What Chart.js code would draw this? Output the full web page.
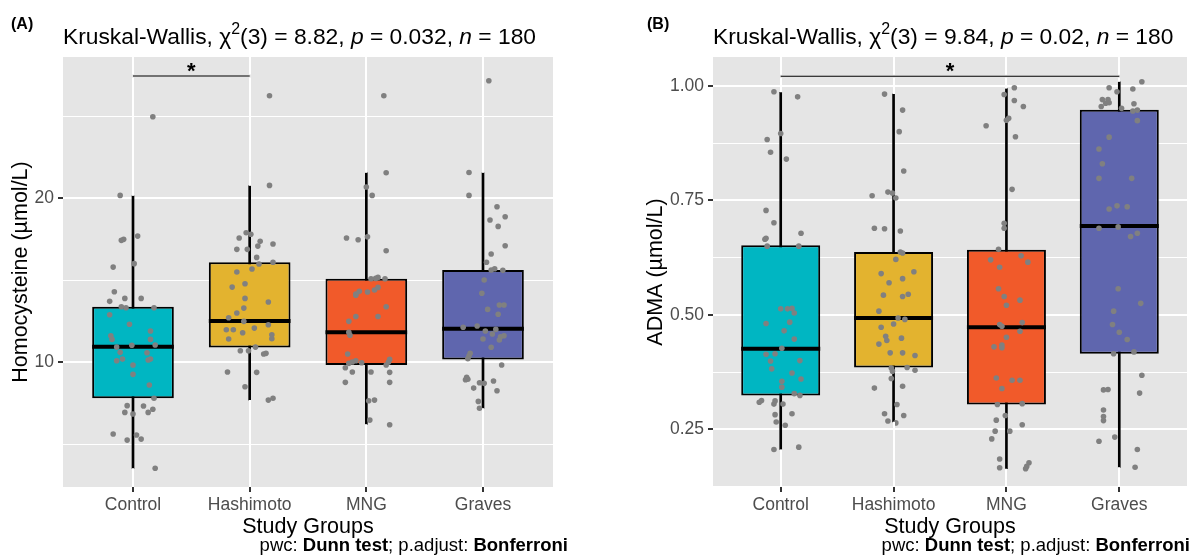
<!DOCTYPE html>
<html lang="en">
<head>
<meta charset="UTF-8">
<title>Homocysteine and ADMA by study group</title>
<script src="https://cdn.jsdelivr.net/npm/chart.js"></script>
<style>
    body { margin: 0; background: #ffffff; width: 1191px; height: 560px; position: relative; overflow: hidden; }
    canvas { position: absolute; top: 0; }
    #chartA { left: 0; }
    #chartB { left: 595px; }
</style>
</head>
<body>
<canvas id="chartA" width="595" height="560"></canvas>
<canvas id="chartB" width="596" height="560"></canvas>
<script>
const FONT = '"Liberation Sans", Arial, sans-serif';
const groups = ['Control', 'Hashimoto', 'MNG', 'Graves'];
const groupColors = ['#00B6C2', '#E3B32F', '#F15A2A', '#5F66AE'];

// ---- Panel A: Homocysteine ----
const hcyLo  = [3.52, 7.68, 6.2, 7.18];
const hcyQ1  = [7.79, 10.89, 9.82, 10.16];
const hcyMed = [10.93, 12.5, 11.81, 12.03];
const hcyQ3  = [13.37, 16.08, 15.08, 15.61];
const hcyHi  = [20.14, 20.75, 21.54, 21.54];
const hcyTicks = [10, 20];
const hcyMinor = [5, 15, 25];
const hcySig = [1, 2];
const hcySigY = 27.44;

const hcyCtrl = [24.96, 20.16, 17.42, 17.48, 17.68, 16.0, 15.79, 14.29, 13.7, 13.88, 13.88, 13.37, 13.31, 13.31, 12.88, 12.3, 11.6, 11.38, 11.89, 11.38, 10.91, 11.02, 11.04, 10.57, 10.59, 10.08, 10.18, 10.12, 10.18, 9.82, 9.25, 8.6, 7.79, 7.34, 7.32, 6.93, 6.83, 6.93, 7.12, 5.61, 5.24, 5.55, 5.3, 3.52];
const hcyCtrlJit = [0.17, -0.11, -0.10, -0.08, 0.04, 0.01, -0.17, -0.16, -0.2, -0.07, 0.07, -0.1, -0.06, 0.18, -0.2, -0.03, -0.19, -0.18, 0.15, 0.15, -0.14, -0.01, 0.19, 0.12, -0.11, -0.14, -0.09, 0.13, 0.15, 0.0, 0.0, 0.14, 0.18, -0.05, 0.09, -0.07, 0.0, 0.13, 0.17, -0.17, -0.05, 0.03, 0.07, 0.19];
const hcyHash = [26.24, 20.77, 17.56, 17.88, 17.79, 17.36, 17.07, 17.2, 16.87, 16.87, 16.38, 15.98, 16.08, 15.67, 15.49, 14.57, 14.77, 13.88, 13.66, 13.29, 12.99, 12.7, 12.48, 12.27, 11.97, 11.97, 11.79, 12.07, 11.66, 11.42, 11.4, 10.91, 10.69, 10.69, 10.49, 10.53, 9.39, 9.37, 8.49, 7.68, 7.79];
const hcyHashJit = [0.17, 0.17, -0.09, -0.03, 0.01, 0.09, 0.07, 0.2, -0.11, -0.02, 0.06, 0.08, 0.2, 0.02, -0.11, -0.15, -0.04, -0.04, 0.16, -0.05, -0.11, -0.18, -0.05, 0.16, -0.2, -0.14, -0.06, 0.04, 0.19, 0.19, -0.18, 0.05, -0.08, -0.01, 0.12, 0.14, -0.19, 0.06, -0.04, 0.16, 0.2];
const hcyMng = [26.24, 21.54, 20.67, 20.16, 17.56, 17.46, 17.64, 16.79, 15.08, 15.16, 15.08, 15.1, 14.15, 14.31, 14.27, 14.39, 14.55, 14.07, 13.37, 12.78, 12.78, 12.48, 11.81, 11.63, 10.49, 9.92, 10.0, 10.08, 9.96, 9.65, 9.39, 9.39, 9.82, 10.16, 10.0, 9.37, 8.76, 8.76, 7.64, 7.68, 6.46, 6.18];
const hcyMngJit = [0.15, 0.17, 0.0, 0.05, -0.17, -0.07, 0.01, 0.17, 0.04, 0.1, 0.16, 0.08, -0.09, -0.06, 0.01, 0.07, 0.1, -0.09, 0.17, -0.09, 0.1, -0.15, -0.15, -0.14, -0.16, -0.15, -0.12, -0.09, -0.04, -0.18, -0.12, 0.04, 0.17, 0.2, 0.19, 0.2, -0.18, 0.2, 0.02, 0.07, 0.03, 0.2];
const hcyGrav = [27.15, 21.56, 20.16, 19.47, 18.86, 18.66, 18.27, 17.09, 16.59, 16.08, 15.61, 15.69, 15.59, 15.0, 14.19, 13.21, 13.48, 13.48, 12.91, 12.12, 12.2, 11.89, 11.71, 11.99, 11.54, 11.6, 11.34, 11.4, 10.9, 10.53, 10.37, 10.2, 9.82, 9.07, 8.95, 8.92, 8.74, 8.7, 8.84, 8.41, 8.25, 7.6, 7.18];
const hcyGravJit = [0.05, -0.12, -0.12, 0.12, 0.19, 0.06, 0.13, 0.19, 0.07, 0.03, 0.07, 0.1, 0.17, 0.01, -0.01, 0.04, 0.14, 0.18, 0.13, -0.17, -0.05, 0.02, 0.08, 0.11, 0.15, 0.18, 0.14, 0.0, 0.07, -0.11, -0.12, -0.13, 0.16, -0.14, -0.13, -0.15, -0.03, 0.01, 0.09, -0.08, 0.12, -0.04, -0.03];

// ---- Panel B: ADMA ----
const admaLo  = [0.206, 0.266, 0.164, 0.167];
const admaQ1  = [0.324, 0.385, 0.304, 0.415];
const admaMed = [0.426, 0.493, 0.473, 0.694];
const admaQ3  = [0.652, 0.637, 0.642, 0.948];
const admaHi  = [0.986, 0.982, 0.994, 1.009];
const admaTicks = [0.25, 0.5, 0.75, 1.0];
const admaMinor = [0.125, 0.375, 0.625, 0.875];
const admaSig = [1, 4];
const admaSigY = 1.021;

const admaCtrl = [0.987, 0.976, 0.896, 0.883, 0.855, 0.84, 0.728, 0.701, 0.678, 0.665, 0.667, 0.65, 0.65, 0.513, 0.513, 0.514, 0.504, 0.481, 0.484, 0.465, 0.447, 0.427, 0.414, 0.415, 0.399, 0.4, 0.382, 0.373, 0.36, 0.355, 0.342, 0.328, 0.324, 0.309, 0.313, 0.312, 0.305, 0.305, 0.282, 0.284, 0.266, 0.259, 0.206, 0.211];
const admaCtrlJit = [-0.06, 0.15, 0.0, -0.12, -0.09, 0.05, -0.13, -0.06, 0.18, -0.14, -0.13, -0.12, 0.16, 0.0, 0.06, 0.1, 0.12, -0.13, 0.08, 0.03, 0.12, 0.01, -0.13, -0.05, -0.09, 0.17, -0.08, 0.1, 0.18, 0.01, 0.01, 0.12, 0.17, -0.19, -0.17, -0.05, -0.06, 0.02, -0.05, 0.1, -0.04, 0.04, -0.06, 0.16];
const admaHash = [0.982, 0.947, 0.9, 0.814, 0.76, 0.768, 0.766, 0.755, 0.689, 0.688, 0.683, 0.637, 0.635, 0.621, 0.59, 0.594, 0.57, 0.579, 0.543, 0.54, 0.545, 0.508, 0.493, 0.49, 0.48, 0.473, 0.453, 0.444, 0.449, 0.436, 0.417, 0.417, 0.411, 0.384, 0.377, 0.385, 0.379, 0.361, 0.34, 0.344, 0.304, 0.284, 0.28, 0.268, 0.264];
const admaHashJit = [-0.08, 0.08, 0.05, 0.09, -0.19, -0.05, -0.01, 0.02, -0.17, -0.08, 0.06, 0.06, 0.08, 0.02, -0.11, 0.18, -0.04, 0.08, -0.09, 0.08, 0.13, -0.13, 0.04, 0.1, 0.0, -0.11, -0.07, -0.06, 0.07, -0.13, -0.03, 0.08, 0.19, -0.02, -0.01, 0.12, 0.19, -0.02, -0.17, 0.08, 0.03, -0.08, 0.09, -0.05, 0.02];
const admaMng = [0.996, 0.981, 0.968, 0.955, 0.913, 0.925, 0.929, 0.889, 0.774, 0.7, 0.689, 0.643, 0.62, 0.629, 0.615, 0.604, 0.557, 0.54, 0.532, 0.521, 0.483, 0.479, 0.475, 0.464, 0.451, 0.43, 0.434, 0.428, 0.362, 0.357, 0.357, 0.339, 0.304, 0.306, 0.27, 0.28, 0.26, 0.246, 0.246, 0.229, 0.185, 0.177, 0.169, 0.166, 0.164];
const admaMngJit = [0.07, -0.02, 0.07, 0.15, -0.18, 0.0, 0.02, 0.08, 0.05, -0.02, -0.02, -0.07, -0.14, 0.13, 0.19, -0.06, -0.07, -0.02, 0.12, 0.0, 0.14, -0.06, -0.04, 0.12, 0.0, -0.11, -0.04, -0.04, -0.09, 0.05, 0.12, -0.04, -0.08, 0.14, -0.09, -0.01, 0.14, -0.1, 0.03, -0.13, -0.06, 0.2, 0.18, -0.06, 0.17];
const admaGrav = [1.009, 0.996, 0.987, 0.993, 0.97, 0.97, 0.963, 0.955, 0.962, 0.961, 0.951, 0.945, 0.947, 0.924, 0.888, 0.862, 0.83, 0.798, 0.798, 0.731, 0.738, 0.736, 0.689, 0.692, 0.671, 0.678, 0.557, 0.508, 0.525, 0.479, 0.462, 0.446, 0.415, 0.419, 0.368, 0.336, 0.337, 0.329, 0.292, 0.278, 0.269, 0.233, 0.224, 0.206, 0.167];
const admaGravJit = [0.2, -0.09, -0.02, 0.12, -0.15, -0.1, -0.09, -0.16, -0.12, 0.13, 0.02, 0.12, 0.16, 0.16, -0.09, -0.18, -0.15, -0.18, 0.11, -0.09, -0.02, 0.07, -0.18, -0.01, 0.1, 0.16, -0.01, -0.05, 0.19, -0.06, 0.0, 0.07, -0.05, 0.13, 0.2, -0.14, -0.1, 0.18, -0.14, -0.14, -0.14, -0.04, -0.18, 0.16, 0.14];

const caption = [{t: 'pwc: '}, {t: 'Dunn test', b: true}, {t: '; p.adjust: '}, {t: 'Bonferroni', b: true}];

function partFont(p, size) {
    return (p.i ? 'italic ' : '') + (p.b ? 'bold ' : '') + (p.sup ? size * 0.7 : size) + 'px ' + FONT;
}

function richWidth(ctx, parts, size) {
    let w = 0;
    parts.forEach(p => { ctx.font = partFont(p, size); w += ctx.measureText(p.t).width; });
    return w;
}

function drawRich(ctx, parts, x, y, size) {
    parts.forEach(p => {
        ctx.font = partFont(p, size);
        ctx.fillText(p.t, x, p.sup ? y - size * 0.42 : y);
        x += ctx.measureText(p.t).width;
    });
}

function vline(ctx, x, y1, y2) {
    if (y2 - y1 < 0.5) return;
    ctx.beginPath(); ctx.moveTo(x, y1); ctx.lineTo(x, y2); ctx.stroke();
}

// grey panel, vertical grid at the groups, tag, rich title, caption and the significance star
const panelText = {
    id: 'panelText',
    beforeDraw(chart, args, opts) {
        const {ctx, chartArea: a} = chart;
        ctx.save();
        ctx.fillStyle = '#E5E5E5';
        ctx.fillRect(a.left, a.top, a.right - a.left, a.bottom - a.top);
        ctx.restore();
    },
    afterDraw(chart, args, opts) {
        const {ctx, chartArea: a} = chart;
        const xs = chart.scales.x;
        const ys = chart.scales.y;
        const by = ys.getPixelForValue(opts.sigY);
        ctx.save();

        // vertical grid: only the parts outside each whisker, kept clear of the bracket
        ctx.lineWidth = 2;
        ctx.lineCap = 'butt';
        groups.forEach((g, i) => {
            const px = Math.round(xs.getPixelForValue(i + 1));
            const top = ys.getPixelForValue(opts.hi[i]);
            const bot = ys.getPixelForValue(opts.lo[i]);
            ctx.strokeStyle = '#ffffff';
            if (i + 1 >= opts.sig[0] && i + 1 <= opts.sig[1] && by > a.top && by < top) {
                vline(ctx, px, a.top, by - 1.5);
                vline(ctx, px, by + 1.5, top);
            } else {
                vline(ctx, px, a.top, top);
            }
            vline(ctx, px, bot, a.bottom);
            ctx.strokeStyle = '#333333';
            vline(ctx, px, a.bottom, a.bottom + 5);
        });

        ctx.fillStyle = '#000';
        ctx.textAlign = 'left';
        ctx.textBaseline = 'alphabetic';
        ctx.font = 'bold 16px ' + FONT;
        ctx.fillText(opts.tag, opts.tagX, 29);
        drawRich(ctx, opts.title, a.left, 44, 22.8);
        ctx.textBaseline = 'middle';
        drawRich(ctx, caption, opts.captionRight - richWidth(ctx, caption, 18.5), 546, 18.5);
        const sx = xs.getPixelForValue((opts.sig[0] + opts.sig[1]) / 2);
        ctx.textAlign = 'center';
        ctx.textBaseline = 'alphabetic';
        ctx.font = 'bold 22px ' + FONT;
        ctx.fillText('*', sx, by + 2);
        ctx.restore();
    }
};

function makeChart(id, o) {
    const points = [];
    o.vals.forEach((arr, g) => arr.forEach((v, k) => points.push({x: g + 1 + o.jit[g][k], y: v})));
    const allTicks = o.ticks.concat(o.minor).sort((a, b) => a - b);

    return new Chart(document.getElementById(id), {
        type: 'scatter',
        data: {
            datasets: [
                {   // significance bracket
                    type: 'line',
                    data: o.sig.map(x => ({x: x, y: o.sigY})),
                    borderColor: '#000', borderWidth: 1.2, pointRadius: 0, order: 0
                },
                {   // jittered observations
                    type: 'scatter',
                    data: points,
                    pointRadius: 2.8, backgroundColor: '#808080', borderWidth: 0, order: 1
                },
                {   // medians
                    type: 'scatter',
                    data: o.med.map((m, i) => ({x: i + 1, y: m})),
                    pointStyle: 'line', borderColor: '#000', borderWidth: 4,
                    pointRadius: c => {
                        const s = c.chart.scales.x;
                        return s.getPixelForValue(1.35) - s.getPixelForValue(1);
                    },
                    order: 2
                },
                {   // boxes
                    type: 'bar',
                    data: o.q1.map((q, i) => ({x: i + 1, y: [q, o.q3[i]]})),
                    backgroundColor: groupColors, borderColor: '#000', borderWidth: 2,
                    borderSkipped: false, barPercentage: 0.7, categoryPercentage: 1,
                    grouped: false, order: 3
                },
                {   // whiskers
                    type: 'bar',
                    data: o.lo.map((l, i) => ({x: i + 1, y: [l, o.hi[i]]})),
                    backgroundColor: '#000', barThickness: 2, grouped: false, order: 4
                }
            ]
        },
        options: {
            responsive: false,
            devicePixelRatio: 1,
            animation: false,
            events: [],
            layout: { padding: { left: o.padLeft, right: o.padRight, top: 57, bottom: 0 } },
            plugins: {
                legend: { display: false },
                tooltip: { enabled: false },
                panelText: {
                    tag: o.tag, tagX: o.tagX, title: o.title, captionRight: o.captionRight,
                    sig: o.sig, sigY: o.sigY, lo: o.lo, hi: o.hi
                }
            },
            scales: {
                x: {
                    type: 'linear', min: 0.4, max: 4.6, offset: false,
                    afterBuildTicks: s => { s.ticks = groups.map((g, i) => ({value: i + 1})); },
                    afterFit: s => { s.height = 73; },
                    border: { display: false },
                    grid: { offset: false, color: 'rgba(0,0,0,0)', tickColor: 'rgba(0,0,0,0)', tickLength: 5 },
                    ticks: {
                        callback: v => groups[v - 1],
                        color: '#4D4D4D', font: { family: FONT, size: 17.5 },
                        padding: 3, maxRotation: 0, autoSkip: false
                    },
                    title: {
                        display: true, text: 'Study Groups', color: '#000',
                        font: { family: FONT, size: 21.5 }, padding: { top: 0, bottom: 20 }
                    }
                },
                y: {
                    type: 'linear', min: o.yMin, max: o.yMax,
                    afterBuildTicks: s => { s.ticks = allTicks.map(v => ({value: v})); },
                    afterFit: s => { s.width = o.yWidth; },
                    border: { display: false },
                    grid: {
                        color: '#ffffff',
                        lineWidth: c => o.ticks.includes(c.tick.value) ? 2 : 1,
                        tickLength: 5,
                        tickColor: c => o.ticks.includes(c.tick.value) ? '#333333' : 'rgba(0,0,0,0)',
                        tickWidth: 2
                    },
                    ticks: {
                        callback: v => o.ticks.includes(v) ? o.fmt(v) : '',
                        color: '#4D4D4D', font: { family: FONT, size: 17.5 }, padding: 4
                    },
                    title: {
                        display: true, text: o.yTitle, color: '#000',
                        font: { family: FONT, size: 21.5 }, padding: { top: 0, bottom: 0 }
                    }
                }
            }
        },
        plugins: [panelText]
    });
}

makeChart('chartA', {
    tag: '(A)', tagX: 11, captionRight: 568,
    title: [{t: 'Kruskal-Wallis, χ'}, {t: '2', sup: true}, {t: '(3) = 8.82, '}, {t: 'p', i: true}, {t: ' = 0.032, '}, {t: 'n', i: true}, {t: ' = 180'}],
    yTitle: 'Homocysteine (µmol/L)',
    yMin: 2.38, yMax: 28.6, ticks: hcyTicks, minor: hcyMinor, fmt: v => String(v),
    padLeft: 8, padRight: 42, yWidth: 55,
    lo: hcyLo, q1: hcyQ1, med: hcyMed, q3: hcyQ3, hi: hcyHi,
    sig: hcySig, sigY: hcySigY,
    vals: [hcyCtrl, hcyHash, hcyMng, hcyGrav],
    jit: [hcyCtrlJit, hcyHashJit, hcyMngJit, hcyGravJit]
});

makeChart('chartB', {
    tag: '(B)', tagX: 52, captionRight: 595,
    title: [{t: 'Kruskal-Wallis, χ'}, {t: '2', sup: true}, {t: '(3) = 9.84, '}, {t: 'p', i: true}, {t: ' = 0.02, '}, {t: 'n', i: true}, {t: ' = 180'}],
    yTitle: 'ADMA (µmol/L)',
    yMin: 0.124, yMax: 1.063, ticks: admaTicks, minor: admaMinor, fmt: v => v.toFixed(2),
    padLeft: 48, padRight: 2.5, yWidth: 70,
    lo: admaLo, q1: admaQ1, med: admaMed, q3: admaQ3, hi: admaHi,
    sig: admaSig, sigY: admaSigY,
    vals: [admaCtrl, admaHash, admaMng, admaGrav],
    jit: [admaCtrlJit, admaHashJit, admaMngJit, admaGravJit]
});
</script>
</body>
</html>
